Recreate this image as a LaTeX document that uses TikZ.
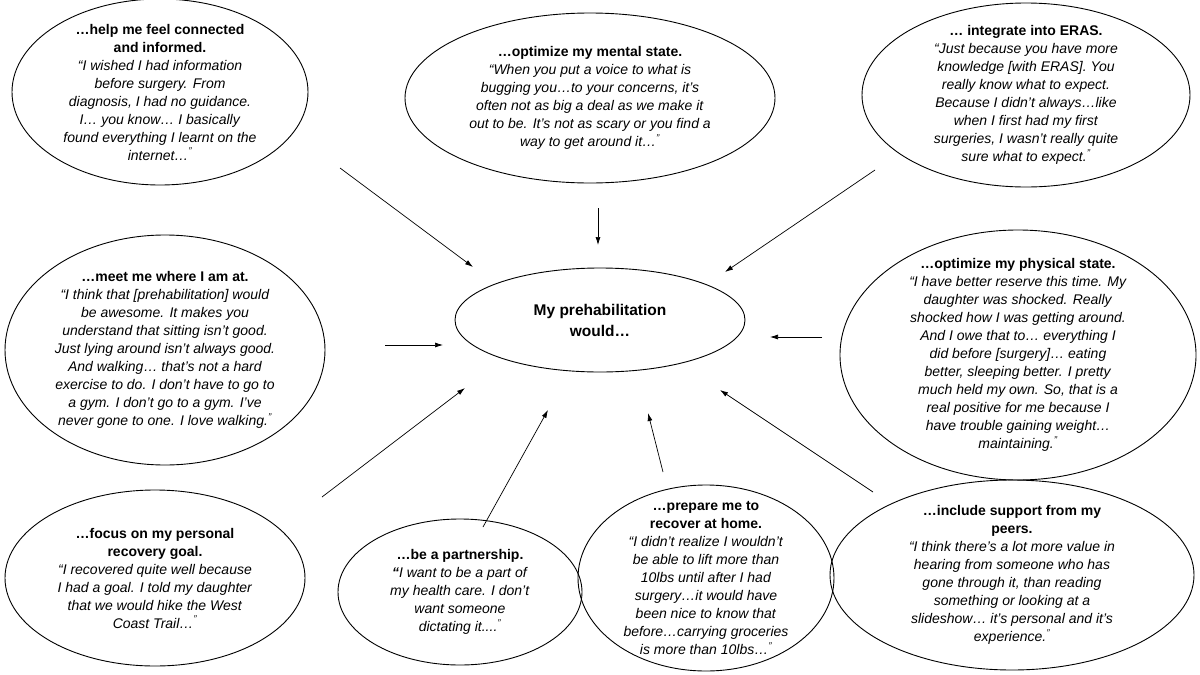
\documentclass[tikz,border=0pt]{standalone}
\usepackage{fontspec}
\setmainfont{Liberation Sans}
\usetikzlibrary{arrows.meta}
\begin{document}
\begin{tikzpicture}[x=1pt,y=-1pt,
 txt/.style={align=center,font=\fontsize{14}{18}\selectfont},
 arr/.style={-{Latex[length=8pt,width=5pt]},line width=0.7pt}]
\useasboundingbox (0,0) rectangle (1200,675);
\def\E#1#2#3#4#5{\draw[line width=0.9pt] (#2,#3) ellipse [x radius=#4, y radius=#5]; \coordinate (#1) at (#2,#3);}
\E{a}{160}{92}{148}{93}
\E{b}{590}{98}{185}{85}
\E{c}{1026}{95}{164}{92}
\E{d}{165}{350}{160}{115}
\E{m}{600}{320}{145}{52}
\E{f}{1018}{355}{178}{125}
\E{g}{155}{578}{150}{88}
\E{h}{460}{592}{122}{73}
\E{i}{706}{578}{128}{93}
\E{j}{1012}{575}{182}{95}
\node[txt] (ta) at (a) {\textbf{…help me feel connected}\\\textbf{and informed.}\\\textit{“I wished I had information}\\\textit{before surgery. From}\\\textit{diagnosis, I had no guidance.}\\\textit{I… you know… I basically}\\\textit{found everything I learnt on the}\\\textit{internet…\textsuperscript{”}}};
\node[txt] (tb) at (b) {\textbf{…optimize my mental state.}\\\textit{“When you put a voice to what is}\\\textit{bugging you…to your concerns, it’s}\\\textit{often not as big a deal as we make it}\\\textit{out to be. It’s not as scary or you find a}\\\textit{way to get around it…\textsuperscript{”}}};
\node[txt] (tc) at (c) {\textbf{… integrate into ERAS.}\\\textit{“Just because you have more}\\\textit{knowledge [with ERAS]. You}\\\textit{really know what to expect.}\\\textit{Because I didn’t always…like}\\\textit{when I first had my first}\\\textit{surgeries, I wasn’t really quite}\\\textit{sure what to expect.\textsuperscript{”}}};
\node[txt] (td) at (d) {\textbf{…meet me where I am at.}\\\textit{“I think that [prehabilitation] would}\\\textit{be awesome. It makes you}\\\textit{understand that sitting isn’t good.}\\\textit{Just lying around isn’t always good.}\\\textit{And walking… that’s not a hard}\\\textit{exercise to do. I don’t have to go to}\\\textit{a gym. I don’t go to a gym. I’ve}\\\textit{never gone to one. I love walking.\textsuperscript{”}}};
\node[txt,font=\fontsize{15.5}{21}\selectfont\bfseries] (tm) at (m) {My prehabilitation\\would…};
\node[txt] (tf) at (f) {\textbf{…optimize my physical state.}\\\textit{“I have better reserve this time. My}\\\textit{daughter was shocked. Really}\\\textit{shocked how I was getting around.}\\\textit{And I owe that to… everything I}\\\textit{did before [surgery]… eating}\\\textit{better, sleeping better. I pretty}\\\textit{much held my own. So, that is a}\\\textit{real positive for me because I}\\\textit{have trouble gaining weight…}\\\textit{maintaining.\textsuperscript{”}}};
\node[txt] (tg) at (g) {\textbf{…focus on my personal}\\\textbf{recovery goal.}\\\textit{“I recovered quite well because}\\\textit{I had a goal. I told my daughter}\\\textit{that we would hike the West}\\\textit{Coast Trail…\textsuperscript{”}}};
\node[txt] (th) at (h) {\textbf{…be a partnership.}\\\textit{\textbf{“}I want to be a part of}\\\textit{my health care. I don't}\\\textit{want someone}\\\textit{dictating it....\textsuperscript{”}}};
\node[txt] (ti) at (i) {\textbf{…prepare me to}\\\textbf{recover at home.}\\\textit{“I didn’t realize I wouldn’t}\\\textit{be able to lift more than}\\\textit{10lbs until after I had}\\\textit{surgery…it would have}\\\textit{been nice to know that}\\\textit{before…carrying groceries}\\\textit{is more than 10lbs…\textsuperscript{”}}};
\node[txt] (tj) at (j) {\textbf{…include support from my}\\\textbf{peers.}\\\textit{“I think there’s a lot more value in}\\\textit{hearing from someone who has}\\\textit{gone through it, than reading}\\\textit{something or looking at a}\\\textit{slideshow… it’s personal and it’s}\\\textit{experience.\textsuperscript{”}}};
\coordinate (a1) at (340,168); \coordinate (a2) at (473,267);
\coordinate (b1) at (598,208); \coordinate (b2) at (598,245);
\coordinate (c1) at (875,170); \coordinate (c2) at (725,272);
\coordinate (d1) at (385,345); \coordinate (d2) at (443,345);
\coordinate (f1) at (822,337); \coordinate (f2) at (770,337);
\coordinate (g1) at (322,497); \coordinate (g2) at (465,388);
\coordinate (h1) at (483,527); \coordinate (h2) at (548,410);
\coordinate (i1) at (663,472); \coordinate (i2) at (648,413);
\coordinate (j1) at (873,492); \coordinate (j2) at (720,390);
\foreach \p in {a,b,c,d,f,g,h,i,j} \draw[arr] (\p1) -- (\p2);
\end{tikzpicture}
\end{document}
